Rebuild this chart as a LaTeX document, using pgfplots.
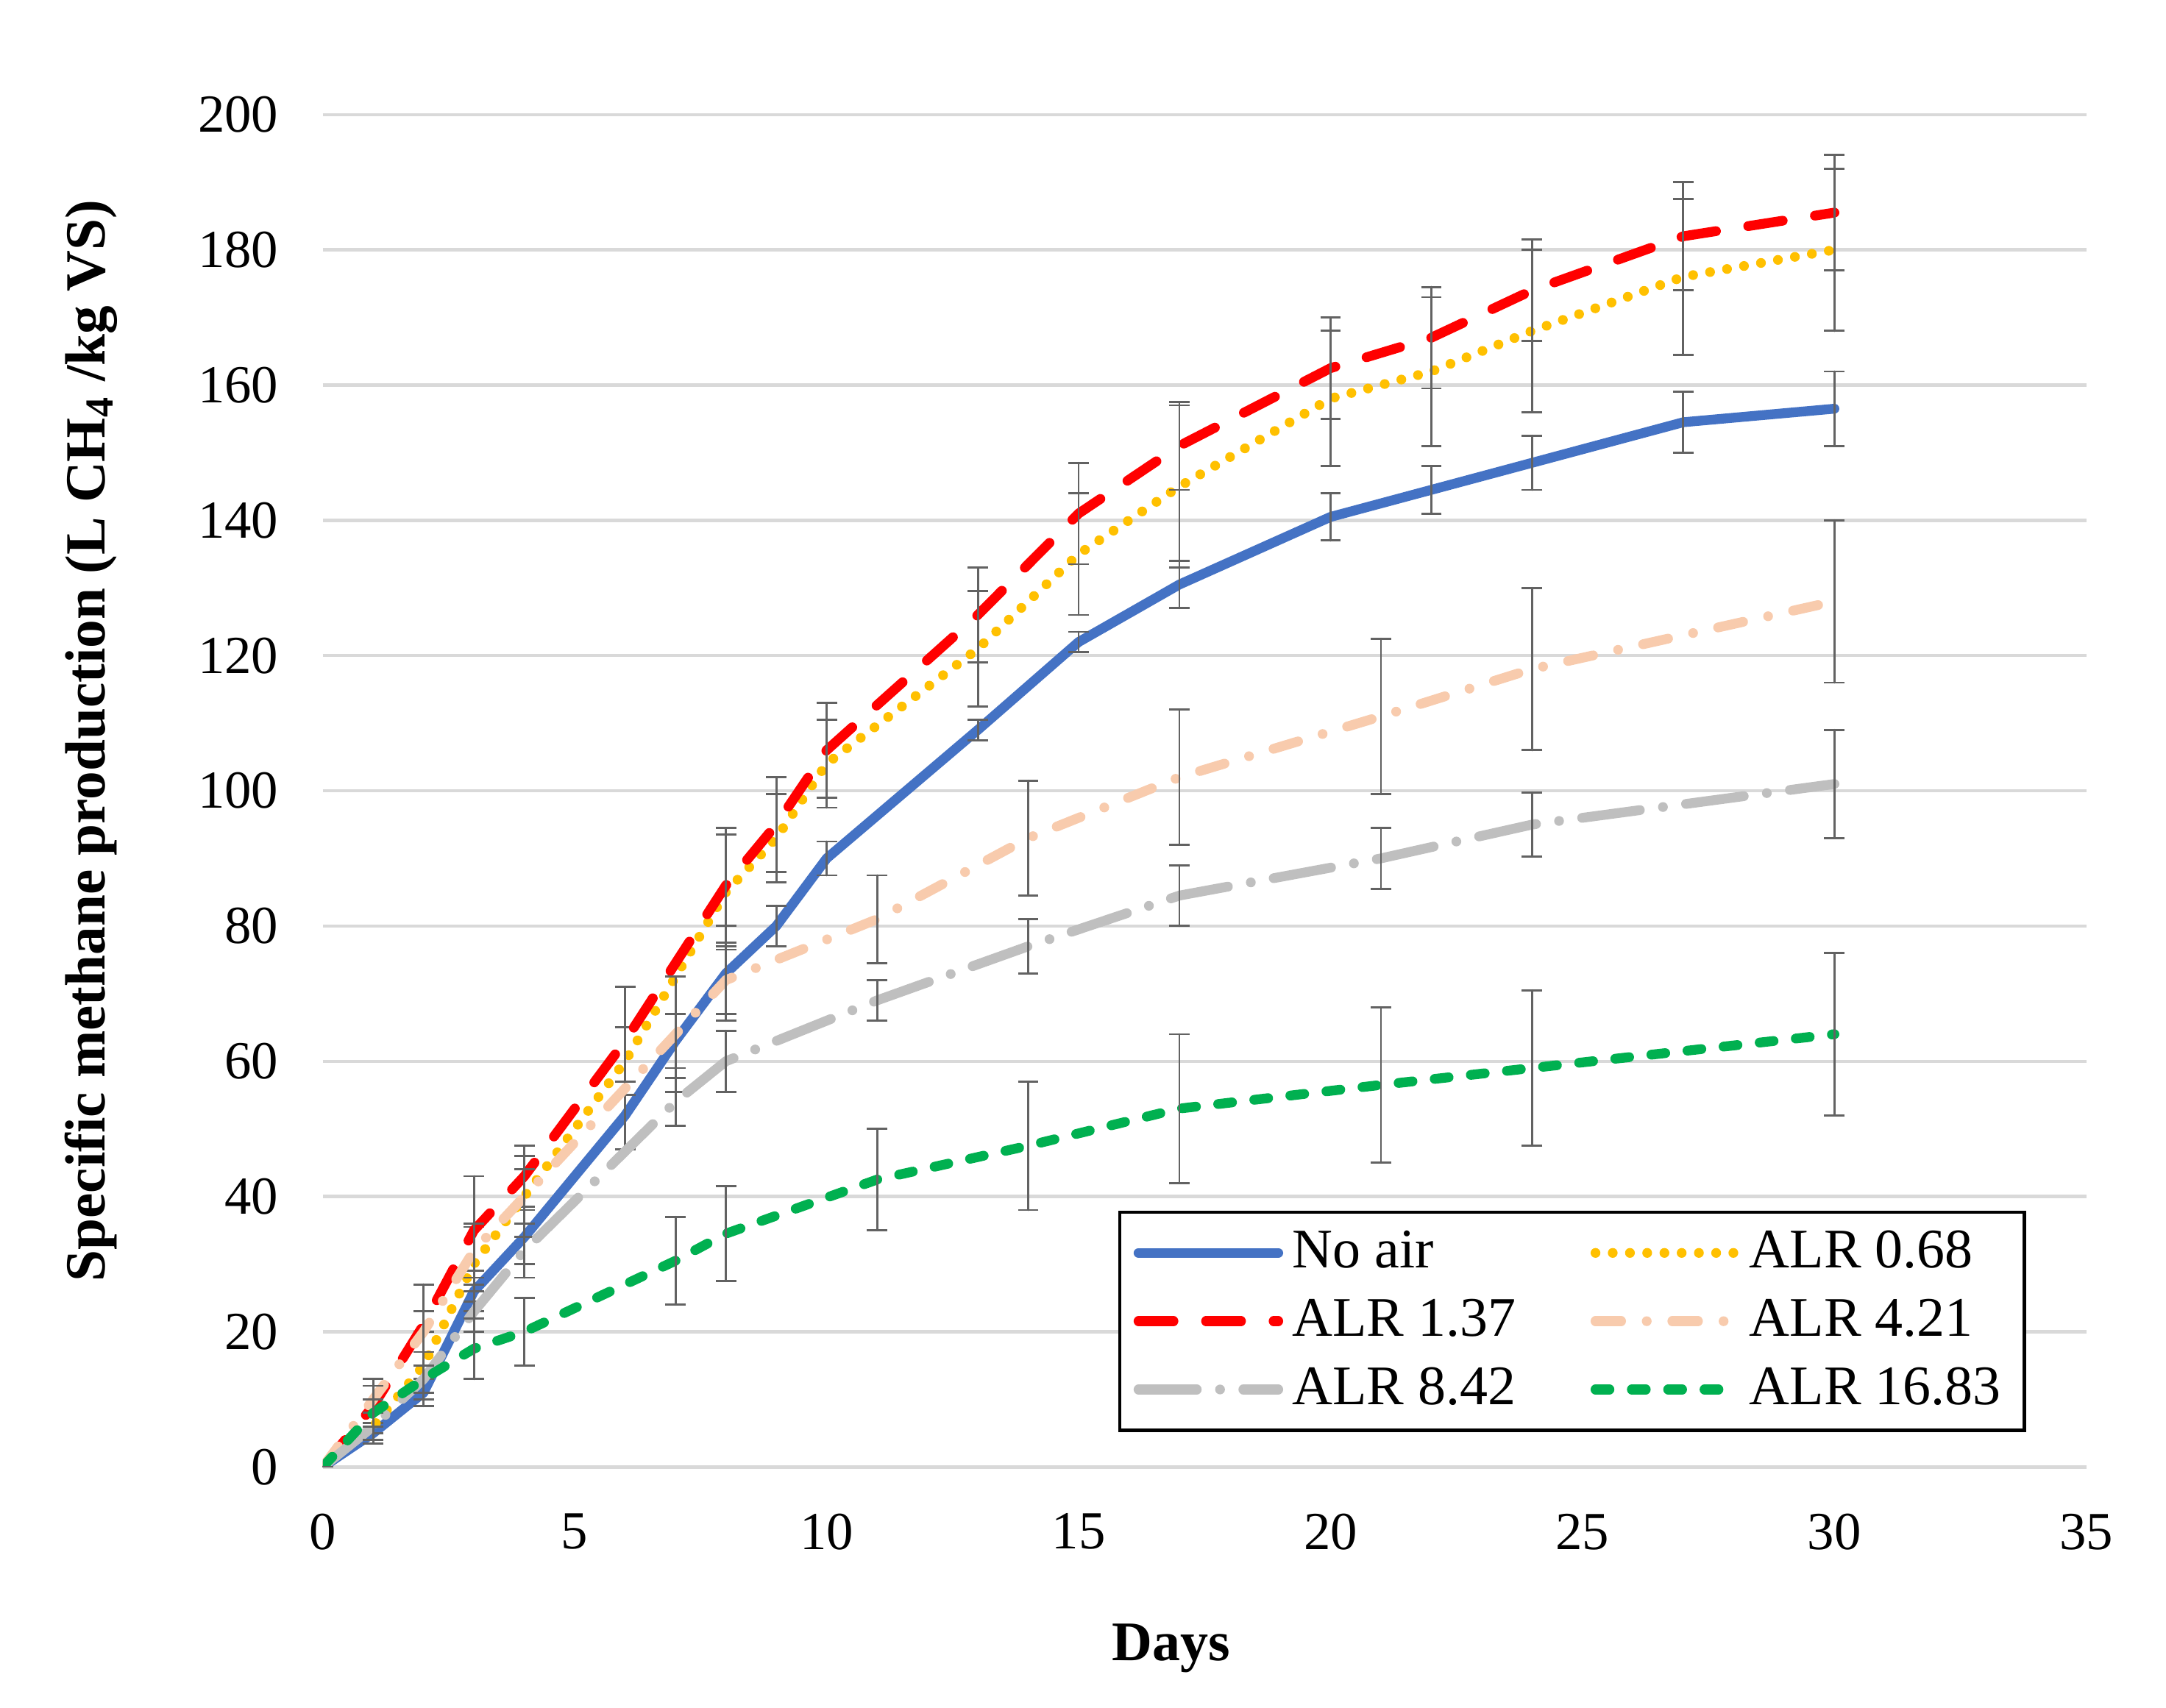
\documentclass[border=0pt]{standalone}
\usepackage{fontspec}
\setmainfont{Liberation Serif}
\usepackage{pgfplots}
\pgfplotsset{compat=1.18}
\definecolor{cblue}{HTML}{4472C4}
\definecolor{cred}{HTML}{FF0000}
\definecolor{cyellow}{HTML}{FFC000}
\definecolor{cpeach}{HTML}{F8CBAD}
\definecolor{cgray}{HTML}{BFBFBF}
\definecolor{cgreen}{HTML}{00B050}
\definecolor{errgray}{HTML}{626262}
\definecolor{gridgray}{HTML}{D9D9D9}
\begin{document}
\begin{tikzpicture}
\begin{axis}[
  name=ax,
  scale only axis,
  width=378.6pt, height=290.4pt,
  xmin=0, xmax=35, ymin=0, ymax=200,
  xtick={0,5,...,35}, ytick={0,20,...,200},
  axis line style={draw=none},
  major tick length=0pt,
  ymajorgrids,
  grid style={gridgray, line width=0.7pt},
  /pgf/number format/assume math mode=true,
  tick label style={font=\fontsize{11.5}{13}\selectfont},
  xticklabel style={yshift=-6.5pt},
  yticklabel style={xshift=-6pt},
  xlabel={\textbf{Days}},
  ylabel={\textbf{Specific methane production (L CH\textsubscript{4} /kg VS)}},
  xlabel style={font=\fontsize{12}{14}\selectfont, at={(axis description cs:0.481,-0.134)}, anchor=center},
  ylabel style={font=\fontsize{12.2}{14}\selectfont, at={(axis description cs:-0.1315,0.537)}, anchor=center},
  every axis plot/.append style={line width=2.1pt, no markers,
    error bars/y dir=both, error bars/y explicit,
    error bars/error bar style={line width=0.45pt, errgray, solid},
    error bars/error mark options={line width=0.45pt, errgray, solid, mark size=2.2pt, rotate=90}},
  legend columns=2,
  legend cell align=left,
  legend style={at={(axis cs:33.8,5.2)}, anchor=south east,
    draw=black, line width=0.7pt, fill=white,
    font=\fontsize{12}{14}\selectfont,
    inner xsep=3pt, inner ysep=2pt,
    row sep=1.2pt,
    /tikz/every even column/.append style={column sep=14pt}},
  legend image code/.code={\draw[#1] (0pt,0pt) -- (30pt,0pt);},
]
% No air
\addplot[cblue, line cap=round, line join=round] coordinates {
(0,0) +- (0,0)
(1,5) +- (0,1.5)
(2,11) +- (0,2)
(3,26) +- (0,3)
(4,34) +- (0,4)
(6,52) +- (0,5)
(7,63) +- (0,4)
(8,73) +- (0,7)
(9,80) +- (0,3)
(10,90) +- (0,2.5)
(13,109) +- (0,1.5)
(15,122) +- (0,1.5)
(17,130.5) +- (0,3.5)
(20,140.5) +- (0,3.5)
(22,144.5) +- (0,3.5)
(24,148.5) +- (0,4)
(27,154.5) +- (0,4.5)
(30,156.5) +- (0,5.5)
};
\addlegendentry{No air}
% ALR 0.68
\addplot[cyellow, line cap=round, dash pattern=on 0pt off 3.7pt] coordinates {
(0,0) +- (0,0)
(1,6) +- (0,2)
(2,15) +- (0,5)
(3,30) +- (0,5.5)
(4,40) +- (0,6)
(6,60) +- (0,5)
(8,85) +- (0,8.5)
(9,93) +- (0,6.5)
(10,104) +- (0,6.5)
(13,121) +- (0,8.5)
(15,135) +- (0,9)
(17,145) +- (0,12)
(20,158) +- (0,10)
(22,162) +- (0,11)
(24,168) +- (0,12)
(27,176) +- (0,11.5)
(30,180) +- (0,12)
};
\addlegendentry{ALR 0.68}
% ALR 1.37
\addplot[cred, line cap=round, dash pattern=on 7.5pt off 7pt] coordinates {
(0,0) +- (0,0)
(1,9) +- (0,4)
(2,21) +- (0,6)
(3,35) +- (0,8)
(4,43) +- (0,4.5)
(6,63) +- (0,8)
(8,86) +- (0,8.5)
(9,95) +- (0,7)
(10,106) +- (0,7)
(13,126) +- (0,7)
(15,141) +- (0,7.5)
(17,151) +- (0,6.5)
(20,162.5) +- (0,7.5)
(22,167) +- (0,7.5)
(24,174) +- (0,7.5)
(27,182) +- (0,8)
(30,185.5) +- (0,8.5)
};
\addlegendentry{ALR 1.37}
% ALR 4.21
\addplot[cpeach, line cap=round, dash pattern=on 5.5pt off 5.5pt on 0pt off 5.5pt] coordinates {
(0,0) +- (0,0)
(1,10) +- (0,2)
(2,20) +- (0,3)
(3,32) +- (0,4)
(4,40) +- (0,4)
(7,64) +- (0,8.5)
(8,72) +- (0,5)
(11,81) +- (0,6.5)
(14,93) +- (0,8.5)
(17,102) +- (0,10)
(21,111) +- (0,11.5)
(24,118) +- (0,12)
(30,128) +- (0,12)
};
\addlegendentry{ALR 4.21}
% ALR 8.42
\addplot[cgray, line cap=round, dash pattern=on 12.5pt off 5pt on 0pt off 5pt] coordinates {
(0,0) +- (0,0)
(1,6) +- (0,2)
(2,13) +- (0,2)
(3,23) +- (0,3)
(4,32) +- (0,4)
(7,54) +- (0,3.5)
(8,60) +- (0,4.5)
(11,69) +- (0,3)
(14,77) +- (0,4)
(17,84.5) +- (0,4.5)
(21,90) +- (0,4.5)
(24,95) +- (0,4.75)
(30,101) +- (0,8)
};
\addlegendentry{ALR 8.42}
% ALR 16.83
\addplot[cgreen, line cap=round, dash pattern=on 3pt off 4.8pt] coordinates {
(0,0) +- (0,0)
(1,8) +- (0,2)
(2,13) +- (0,2)
(3,17.5) +- (0,4.5)
(4,20) +- (0,5)
(7,30.5) +- (0,6.5)
(8,34.5) +- (0,7)
(11,42.5) +- (0,7.5)
(14,47.5) +- (0,9.5)
(17,53) +- (0,11)
(21,56.5) +- (0,11.5)
(24,59) +- (0,11.5)
(30,64) +- (0,12)
};
\addlegendentry{ALR 16.83}
\end{axis}
\pgfresetboundingbox
\path[use as bounding box] ([shift={(-69.3pt,-51.6pt)}]ax.south west) rectangle ([shift={(17.1pt,24.6pt)}]ax.north east);
\end{tikzpicture}
\end{document}
